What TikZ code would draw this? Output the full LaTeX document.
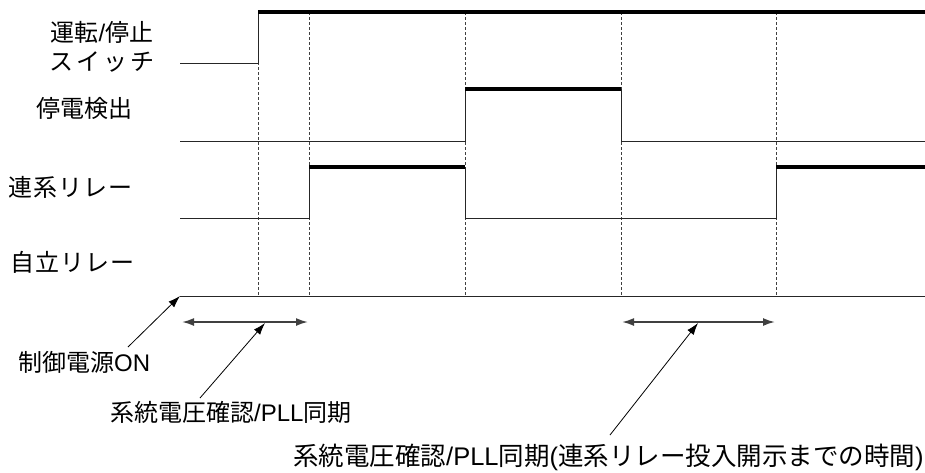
\documentclass[tikz,border=0pt]{standalone}
\usepackage{fontspec}
\setmainfont{Noto Sans CJK JP}
\newfontfamily\lat{Liberation Sans}
\usetikzlibrary{arrows.meta}
\begin{document}
\begin{tikzpicture}[x=1pt,y=-1pt,
  lowline/.style={line width=1pt, black!85, line join=miter},
  hiline/.style={line width=4pt, black, line cap=butt},
  guide/.style={line width=0.8pt, black!75, dash pattern=on 3pt off 2pt},
  span/.style={{Latex[length=12pt,width=8pt]}-{Latex[length=12pt,width=8pt]}, line width=1.8pt, black!75},
  pointer/.style={-{Latex[length=12pt,width=8pt]}, line width=0.8pt, black},
  lbl/.style={inner sep=0pt, font=\fontsize{24}{28}\selectfont},
  biglbl/.style={inner sep=0pt, font=\fontsize{25.5}{30}\selectfont}
]
\useasboundingbox (0,0) rectangle (925,472);

% time points
\coordinate (t0) at (180,0);
\coordinate (t1) at (258,0);
\coordinate (t2) at (309,0);
\coordinate (t3) at (465,0);
\coordinate (t4) at (621,0);
\coordinate (t5) at (776,0);
\coordinate (tend) at (925,0);

% guides
\foreach \t in {t1,t2,t3,t4,t5}
  \draw[guide] (\t |- 0,12) -- (\t |- 0,296);

% run/stop switch
\draw[lowline] (t0 |- 0,63) -- (t1 |- 0,63) -- (t1 |- 0,12);
\draw[hiline] (t1 |- 0,12) -- (tend |- 0,12);

% outage detection
\draw[lowline] (t0 |- 0,141) -- (t3 |- 0,141) -- (t3 |- 0,89);
\draw[hiline] (t3 |- 0,89) -- (t4 |- 0,89);
\draw[lowline] (t4 |- 0,89) -- (t4 |- 0,141) -- (tend |- 0,141);

% grid relay
\draw[lowline] (t0 |- 0,218) -- (t2 |- 0,218) -- (t2 |- 0,167);
\draw[hiline] (t2 |- 0,167) -- (t3 |- 0,167);
\draw[lowline] (t3 |- 0,167) -- (t3 |- 0,218) -- (t5 |- 0,218) -- (t5 |- 0,167);
\draw[hiline] (t5 |- 0,167) -- (tend |- 0,167);

% independent relay
\coordinate (origin) at (180,296);
\draw[lowline] (origin) -- (tend |- 0,296);

% labels
\node[lbl] (sw1) at (102,32) {運転{\lat/}停止};
\node[lbl] (sw2) at (102,62) {ス\hspace{3pt}イ\hspace{3pt}ッ\hspace{3pt}チ};
\node[lbl, anchor=east] (outage) at (133,108) {停電検出};
\node[lbl, anchor=east] (grid) at (133,187) {連\hspace{1pt}系\hspace{1pt}リ\hspace{1pt}レ\hspace{1pt}ー};
\node[lbl, anchor=east] (indep) at (135,262) {自\hspace{1pt}立\hspace{1pt}リ\hspace{1pt}レ\hspace{1pt}ー};

% annotations
\node[lbl, anchor=west] (pon) at (18,362) {制御電源{\lat ON}};
\node[lbl, anchor=west] (sync1) at (110,412) {系統電圧確認{\lat /PLL}同期};
\node[biglbl, anchor=west] (sync2) at (293,457) {系統電圧確認{\lat /PLL}同期{\lat (}連系リレー投入開示までの時間{\lat )}};

\coordinate (ponTail) at (128,347);
\draw[pointer] (ponTail) -- (origin);

\coordinate (s1a) at (182,322);
\coordinate (s1b) at (308,322);
\draw[span] (s1a) -- (s1b);
\coordinate (s1tail) at (200,398);
\coordinate (s1head) at (265,323);
\draw[pointer] (s1tail) -- (s1head);

\coordinate (s2a) at (622,322);
\coordinate (s2b) at (775,322);
\draw[span] (s2a) -- (s2b);
\coordinate (s2tail) at (610,435);
\coordinate (s2head) at (698,323);
\draw[pointer] (s2tail) -- (s2head);
\end{tikzpicture}
\end{document}
